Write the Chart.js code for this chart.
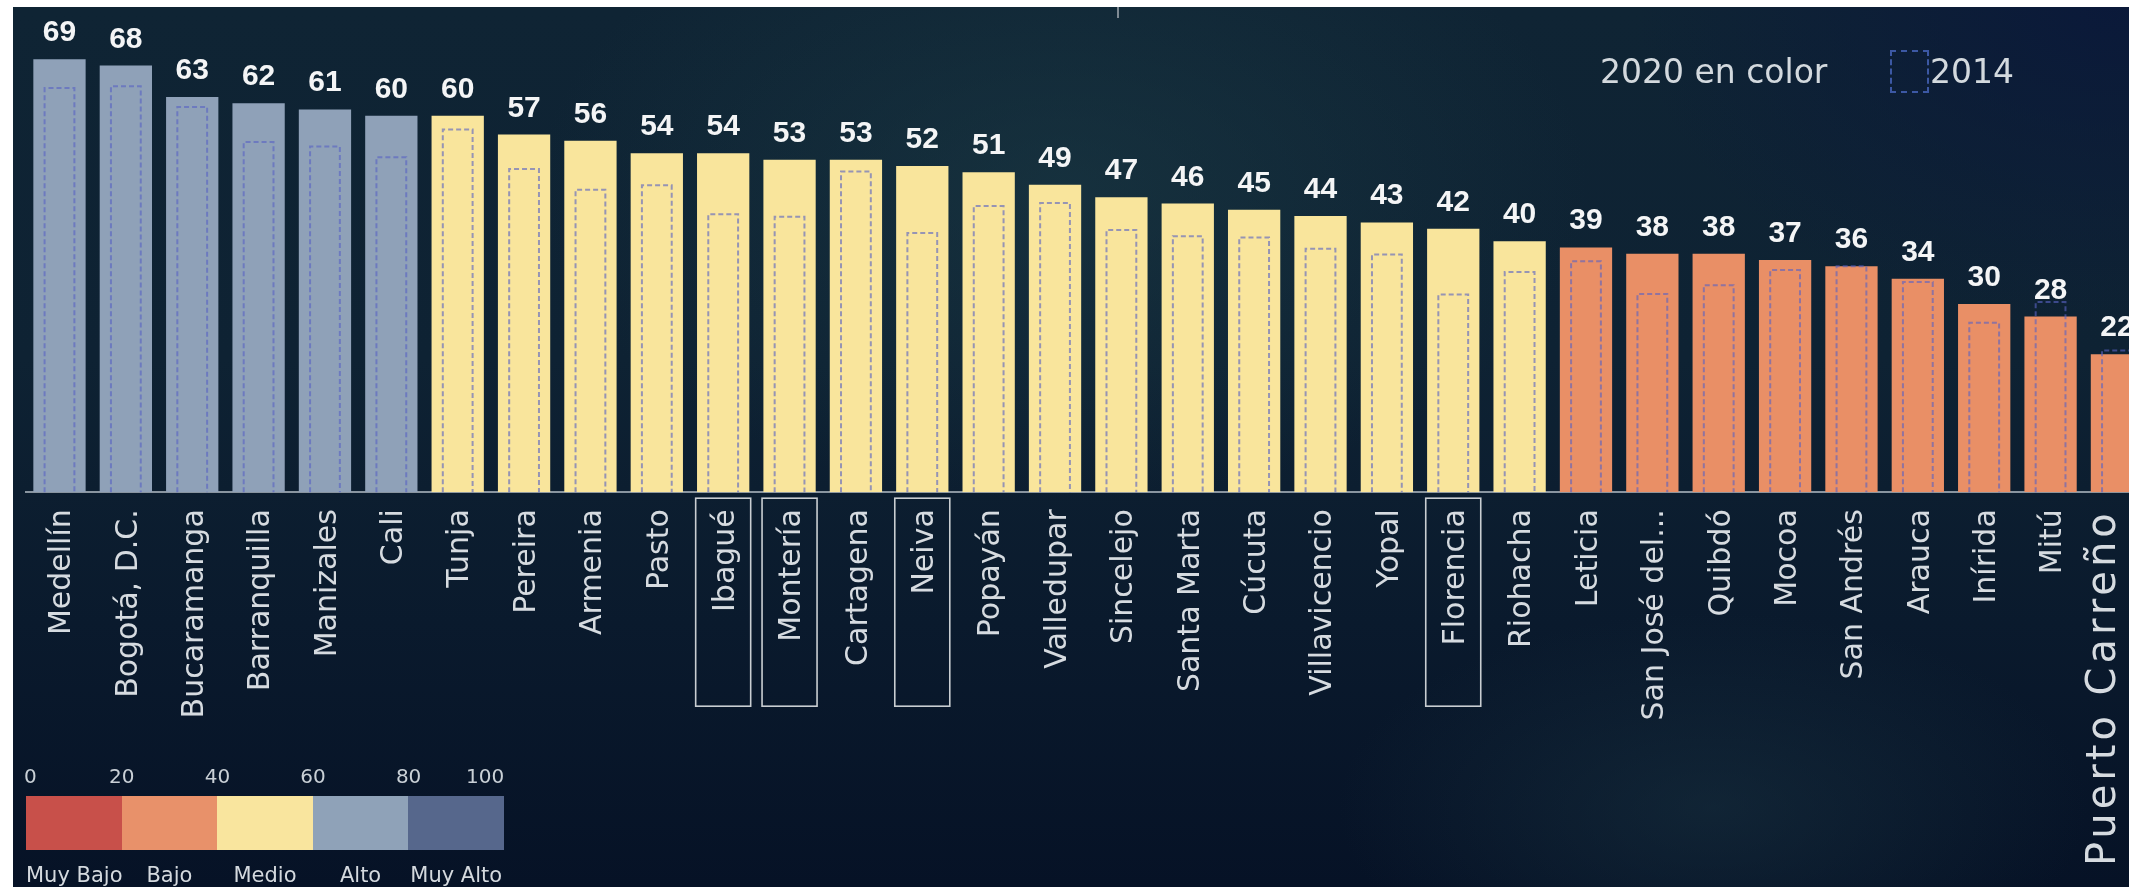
<!DOCTYPE html>
<html lang="es">
<head>
<meta charset="utf-8">
<script src="https://cdn.jsdelivr.net/npm/chart.js@4.4.1/dist/chart.umd.min.js"></script>
<style>
  html, body { margin: 0; padding: 0; }
  body {
    width: 2129px; height: 887px; overflow: hidden; position: relative;
    background: #ffffff; font-family: "DejaVu Sans", sans-serif;
  }
  #panel {
    position: absolute; left: 13px; top: 7px; right: 0; bottom: 0;
    background:
      radial-gradient(ellipse 700px 420px at 1050px 180px, rgba(28,60,70,0.55), rgba(28,60,70,0) 75%),
      radial-gradient(ellipse 600px 400px at 2100px 0px, rgba(10,24,58,0.9), rgba(10,24,58,0) 80%),
      radial-gradient(ellipse 500px 260px at 1700px 800px, rgba(26,52,66,0.5), rgba(26,52,66,0) 75%),
      linear-gradient(180deg, #0f2434 0%, #0e2233 40%, #0a1a2d 70%, #061226 100%);
  }
  #mark { position: absolute; left: 1117px; top: 7px; width: 2px; height: 11px; background: #7f8a93; }
  #wrap { position: absolute; left: 0; top: 0; width: 2170px; height: 887px; }
  #legendTop { position: absolute; left: 1600px; top: 50px; height: 44px; color: #d3d9de; font-size: 33px; }
  #legendTop .t2020 { position: absolute; left: 0; top: 2px; white-space: nowrap; }
  #legendTop .box { position: absolute; left: 290px; top: 0; width: 35px; height: 39px; border: 2px dashed #3c58a4; }
  #legendTop .t2014 { position: absolute; left: 330px; top: 2px; white-space: nowrap; }
  #scale { position: absolute; left: 26px; top: 762px; width: 478px; height: 125px; font-size: 20px; color: #c9d0d6; }
  #scale .num { position: absolute; top: 2px; }
  #scale .seg { position: absolute; top: 34px; height: 54px; }
  #scale .name { position: absolute; top: 101px; text-align: center; white-space: nowrap; color: #d4d9de; font-size: 21px; }
</style>
</head>
<body>
<div id="panel"></div>
<div id="mark"></div>
<div id="wrap"><canvas id="myChart" width="2170" height="887"></canvas></div>
<div id="legendTop">
  <span class="t2020">2020 en color</span>
  <div class="box"></div>
  <span class="t2014">2014</span>
</div>
<div id="scale"></div>
<script>
// Ciudades e índices
const cities = ["Medellín", "Bogotá, D.C.", "Bucaramanga", "Barranquilla", "Manizales", "Cali",
  "Tunja", "Pereira", "Armenia", "Pasto", "Ibagué", "Montería", "Cartagena", "Neiva", "Popayán",
  "Valledupar", "Sincelejo", "Santa Marta", "Cúcuta", "Villavicencio", "Yopal", "Florencia",
  "Riohacha", "Leticia", "San José del...", "Quibdó", "Mocoa", "San Andrés", "Arauca", "Inírida",
  "Mitú", "Puerto Carreño"];
const values2020 = [69, 68, 63, 62, 61, 60, 60, 57, 56, 54, 54, 53, 53, 52, 51, 49, 47, 46, 45, 44,
  43, 42, 40, 39, 38, 38, 37, 36, 34, 30, 28, 22];
const values2014 = [64.4, 64.7, 61.4, 55.8, 55.1, 53.4, 57.8, 51.5, 48.2, 48.9, 44.3, 43.9, 51.1,
  41.3, 45.6, 46.1, 41.8, 40.8, 40.6, 38.8, 37.9, 31.5, 35.1, 36.8, 31.6, 33.0, 35.4, 36.0, 33.5,
  27.0, 30.3, 22.6];
const level2020 = ["Alto", "Alto", "Alto", "Alto", "Alto", "Alto",
  "Medio", "Medio", "Medio", "Medio", "Medio", "Medio", "Medio", "Medio", "Medio", "Medio", "Medio",
  "Medio", "Medio", "Medio", "Medio", "Medio", "Medio",
  "Bajo", "Bajo", "Bajo", "Bajo", "Bajo", "Bajo", "Bajo", "Bajo", "Bajo"];
const highlighted = ["Ibagué", "Montería", "Neiva", "Florencia"];

// Escala de niveles
const levelNames = ["Muy Bajo", "Bajo", "Medio", "Alto", "Muy Alto"];
const levelTicks = [0, 20, 40, 60, 80, 100];
const levelColors = ["#c8504a", "#e8916a", "#f9e59e", "#8fa2b8", "#56678c"];
const barColors = { "Muy Bajo": "#c8504a", "Bajo": "#e98f66", "Medio": "#f9e59c", "Alto": "#8fa1b8", "Muy Alto": "#56678c" };

const lastIdx = cities.length - 1;

// leyenda de la escala
const scaleDiv = document.getElementById("scale");
const segW = 478 / levelNames.length;
levelTicks.forEach((t, i) => {
  const el = document.createElement("span");
  el.className = "num";
  el.textContent = t;
  scaleDiv.appendChild(el);
  const w = el.offsetWidth;
  let left = i * segW - w / 2;
  if (i === 0) left = -2;
  if (i === levelTicks.length - 1) left = 478 - w;
  el.style.left = left + "px";
});
levelNames.forEach((n, i) => {
  const seg = document.createElement("div");
  seg.className = "seg";
  seg.style.left = i * segW + "px";
  seg.style.width = segW + "px";
  seg.style.background = levelColors[i];
  scaleDiv.appendChild(seg);
  const name = document.createElement("span");
  name.className = "name";
  name.textContent = n;
  name.style.left = i * segW + "px";
  name.style.width = segW + "px";
  scaleDiv.appendChild(name);
});

// dibuja recuadros 2014, valores y marcos de ciudades
const overlay = {
  id: "overlay",
  afterDatasetsDraw(chart) {
    const ctx = chart.ctx;
    const meta14 = chart.getDatasetMeta(0);
    ctx.save();
    ctx.setLineDash([5, 3]);
    ctx.lineWidth = 2;
    ctx.strokeStyle = "rgba(88,98,196,0.62)";
    meta14.data.forEach((bar) => {
      const half = bar.width / 2;
      ctx.beginPath();
      ctx.moveTo(bar.x - half, bar.base);
      ctx.lineTo(bar.x - half, bar.y);
      ctx.lineTo(bar.x + half, bar.y);
      ctx.lineTo(bar.x + half, bar.base);
      ctx.stroke();
    });
    ctx.restore();

    const meta20 = chart.getDatasetMeta(1);
    ctx.save();
    ctx.font = "bold 30px 'Liberation Sans', Arial, sans-serif";
    ctx.fillStyle = "#f4f5f6";
    ctx.textAlign = "center";
    ctx.textBaseline = "alphabetic";
    meta20.data.forEach((bar, i) => {
      ctx.fillText(String(values2020[i]), bar.x, bar.y - 18);
    });
    ctx.restore();
  },
  afterDraw(chart) {
    const ctx = chart.ctx;
    const xs = chart.scales.x;
    const bottom = chart.chartArea.bottom;
    ctx.save();
    ctx.strokeStyle = "#c9ced2";
    ctx.lineWidth = 1.6;
    highlighted.forEach((c) => {
      const px = xs.getPixelForValue(cities.indexOf(c));
      ctx.strokeRect(px - 27.5, bottom + 6, 55, 208);
    });
    ctx.restore();

    // la última etiqueta, más larga y pegada al borde visible
    ctx.save();
    ctx.translate(xs.getPixelForValue(lastIdx) - 12, bottom + 17);
    ctx.rotate(-Math.PI / 2);
    ctx.font = "40px 'DejaVu Sans', sans-serif";
    ctx.letterSpacing = "4px";
    ctx.fillStyle = "#d6dbe0";
    ctx.textAlign = "right";
    ctx.textBaseline = "middle";
    ctx.fillText(cities[lastIdx], 0, 0);
    ctx.restore();
  }
};

new Chart(document.getElementById("myChart"), {
  type: "bar",
  data: {
    labels: cities,
    datasets: [
      {
        label: "2014",
        data: values2014,
        backgroundColor: "rgba(0,0,0,0)",
        borderWidth: 0,
        grouped: false,
        barPercentage: 0.449,
        categoryPercentage: 1,
        order: 0,
      },
      {
        label: "2020",
        data: values2020,
        backgroundColor: level2020.map((l) => barColors[l]),
        borderWidth: 0,
        grouped: false,
        barPercentage: 0.788,
        categoryPercentage: 1,
        order: 1,
      },
    ],
  },
  options: {
    responsive: false,
    animation: false,
    layout: { padding: { left: 26.3, right: 3.9, top: 21.6, bottom: 0 } },
    plugins: {
      legend: { display: false },
      tooltip: { enabled: false },
    },
    scales: {
      x: {
        grid: { display: false, drawTicks: false },
        border: { display: true, color: "rgba(160,170,180,0.85)", width: 2 },
        ticks: {
          color: "#d6dbe0",
          font: { family: "'DejaVu Sans', sans-serif", size: 30 },
          minRotation: 90,
          maxRotation: 90,
          autoSkip: false,
          padding: 17,
          labelOffset: 3,
          callback: (v, i) => (i === lastIdx ? "" : cities[i]),
        },
        afterFit: (scale) => { scale.height = 394.8; },
      },
      y: { display: false, min: 0, max: 75 },
    },
  },
  plugins: [overlay],
});
</script>
</body>
</html>
